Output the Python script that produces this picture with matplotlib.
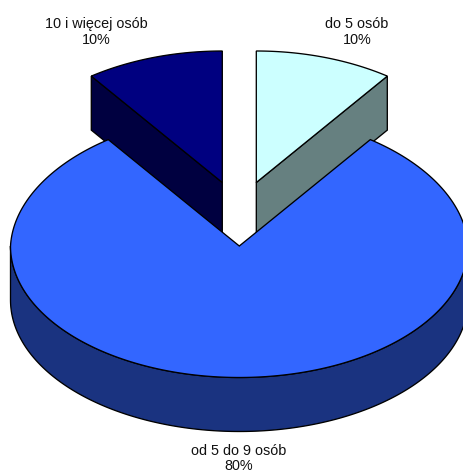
import matplotlib
matplotlib.use("Agg")
import matplotlib.pyplot as plt
import numpy as np

# chart values
labels = ["do 5 osób", "od 5 do 9 osób", "10 i więcej osób"]
shares = [10, 80, 10]
pct_labels = ["10%", "80%", "10%"]

top_colors = ["#CCFFFF", "#3366FF", "#000080"]
side_colors = ["#668080", "#1A3380", "#000040"]

# pie geometry, in pixels of the 464x470 picture
CX, CY = 239.3, 246.0
RX, RY = 228.8, 131.5
DEPTH = 54.0
NARROW = 0.032  # the far half of the pie is drawn a little narrower
EXPLODE = [(17, -63.5), (0, 0), (-17, -63.5)]
LABEL_POS = [(357, 32), (239, 458.5), (96, 32)]
LINE = 0.95

plt.rcParams["font.family"] = ["Liberation Sans", "DejaVu Sans"]


def rim(start, end, cx, cy):
    # angles in degrees, clockwise from the top of the ellipse
    t = np.radians(np.linspace(start, end, 240))
    squeeze = 1 - NARROW * np.clip(np.cos(t), 0, None)
    return np.column_stack([cx + RX * np.sin(t) * squeeze, cy - RY * np.cos(t)])


def draw_wall(ax, pts, color, z):
    low = pts + [0, DEPTH]
    ax.fill(
        np.r_[pts[:, 0], low[::-1, 0]],
        np.r_[pts[:, 1], low[::-1, 1]],
        facecolor=color, edgecolor="black", linewidth=LINE, zorder=z,
    )


fig = plt.figure(figsize=(4.64, 4.70), dpi=100)
ax = fig.add_axes([0, 0, 1, 1])
ax.set_xlim(0, 464)
ax.set_ylim(470, 0)
ax.axis("off")

edges = np.cumsum([0] + shares) * 3.6

# walls of the pulled out slices stay under the top of the big slice
for i in [1, 0, 2]:
    start, end = edges[i], edges[i + 1]
    cx, cy = CX + EXPLODE[i][0], CY + EXPLODE[i][1]
    apex = np.array([[cx, cy]])
    arc = rim(start, end, cx, cy)
    if i == 1:
        draw_wall(ax, rim(90, 270, cx, cy), side_colors[i], 2)
    elif i == 0:
        draw_wall(ax, np.vstack([apex, arc[-1:]]), side_colors[i], 3)
    else:
        draw_wall(ax, np.vstack([apex, arc[:1]]), side_colors[i], 3)
    poly = np.vstack([apex, arc])
    ax.fill(poly[:, 0], poly[:, 1], facecolor=top_colors[i], edgecolor="black",
            linewidth=LINE, joinstyle="miter", zorder=4 if i == 1 else 5)

for name, pct, (x, y) in zip(labels, pct_labels, LABEL_POS):
    ax.text(x, y, f"{name}\n{pct}", ha="center", va="center", fontsize=10.4,
            color="#111111", linespacing=1.1, zorder=6)

fig.savefig("out.png", dpi=100)
